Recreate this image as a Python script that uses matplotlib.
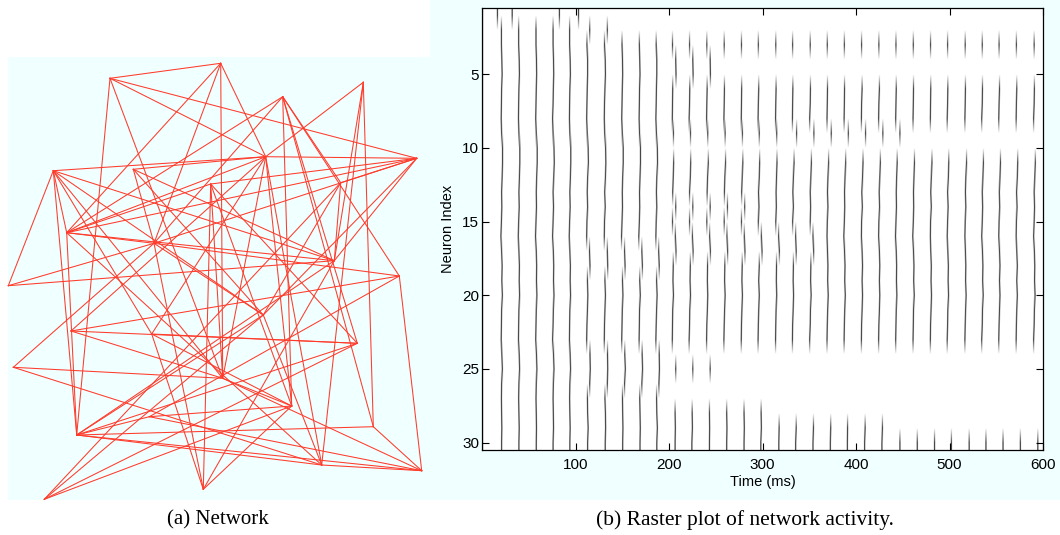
import numpy as np
import matplotlib
matplotlib.use("Agg")
import matplotlib.pyplot as plt
from matplotlib.patches import Rectangle

plt.rcParams['font.family'] = ['Liberation Sans', 'DejaVu Sans']

# ---------------- network panel: node positions (picture pixels) ----------------
node_names = ["A", "B", "C", "D", "E", "F", "G", "H", "I", "J", "K", "L", "M", "N", "O",
              "P", "Q", "R", "S", "T", "U", "V", "W", "X", "Y", "Z", "AA", "AB", "AC"]
node_x = [220.7, 110.0, 282.7, 363.3, 265.7, 416.7, 53.3, 133.3, 210.7, 340.7, 66.7, 154.0, 334.3, 399.3, 8.3,
          71.0, 151.7, 263.3, 357.3, 222.7, 13.3, 291.7, 373.3, 76.7, 149.3, 321.7, 421.7, 203.3, 44.3]
node_y = [63.3, 78.3, 96.7, 82.3, 156.7, 158.3, 170.7, 169.3, 184.0, 182.7, 232.7, 243.3, 260.7, 276.0, 285.7,
          331.0, 334.0, 315.0, 343.3, 378.3, 367.3, 406.0, 426.7, 435.0, 416.7, 465.0, 470.7, 489.3, 499.3]
edges = [
    ("A", "B"), ("A", "T"), ("A", "E"), ("A", "L"), ("A", "K"),
    ("B", "X"), ("B", "E"), ("B", "F"), ("B", "T"),
    ("C", "J"), ("C", "V"), ("C", "S"), ("C", "W"), ("C", "K"), ("C", "L"), ("C", "N"),
    ("D", "E"), ("D", "M"), ("D", "W"), ("D", "Z"),
    ("E", "G"), ("E", "H"), ("E", "F"), ("E", "K"), ("E", "Q"), ("E", "P"), ("E", "T"), ("E", "Z"), ("E", "V"),
    ("F", "K"), ("F", "L"), ("F", "J"), ("F", "R"), ("F", "M"), ("F", "I"),
    ("G", "K"), ("G", "O"), ("G", "X"), ("G", "Q"), ("G", "R"), ("G", "M"), ("G", "T"),
    ("H", "L"), ("H", "M"), ("H", "R"),
    ("I", "T"), ("I", "S"), ("I", "V"), ("I", "K"), ("I", "AB"),
    ("J", "M"), ("J", "R"), ("J", "AC"),
    ("K", "L"), ("K", "M"), ("K", "X"), ("K", "Z"),
    ("L", "AB"), ("L", "R"), ("L", "N"), ("L", "U"),
    ("M", "O"), ("M", "AB"), ("M", "X"),
    ("N", "P"), ("N", "AA"), ("N", "Y"),
    ("O", "L"),
    ("P", "S"), ("P", "T"),
    ("Q", "S"), ("Q", "AB"), ("Q", "V"),
    ("R", "X"), ("R", "Z"), ("R", "AC"),
    ("S", "X"), ("S", "AC"),
    ("T", "V"), ("T", "AA"), ("T", "U"),
    ("U", "Z"),
    ("V", "AB"), ("V", "AC"), ("V", "Y"),
    ("W", "AA"), ("W", "X"),
    ("X", "Z"), ("X", "AA"), ("X", "Y"),
    ("Y", "AA"), ("Z", "AA"),
]

# ---------------- raster panel ----------------
n_neurons = 30
t_max = 600.0
# times of the population bursts (ms)
cycle_times = [20.7, 39.2, 57.7, 75.9, 93.7, 112.3, 131.1, 149.7, 168.2, 186.3,
               203.7, 221.9, 240.5, 259.0, 277.5, 295.6, 314.2, 332.3, 350.9, 369.3,
               387.5, 406.1, 424.6, 442.7, 461.2, 479.8, 497.9, 516.8, 534.9, 553.1,
               571.6, 590.4]
# (first cycle, last cycle, first neuron, last neuron, lag in ms)
firing_blocks = [
    (0, 4, 2, 30, 0.0),
    (5, 6, 2, 2, 3.0),
    (5, 9, 3, 16, 0.0),
    (5, 9, 17, 18, 2.5),
    (5, 9, 19, 23, 0.0),
    (5, 9, 24, 26, 2.5),
    (5, 9, 27, 30, 0.5),
    (10, 31, 3, 3, 0.0),
    (10, 12, 4, 5, 3.0),
    (10, 31, 6, 8, 0.0),
    (10, 16, 9, 9, 0.8),
    (17, 23, 9, 9, 4.0),
    (10, 31, 11, 13, 0.0),
    (10, 14, 14, 14, 3.0),
    (15, 31, 14, 14, 0.0),
    (10, 31, 15, 15, 0.0),
    (10, 18, 16, 17, 3.5),
    (19, 31, 16, 17, 0.0),
    (10, 31, 18, 23, 0.0),
    (10, 12, 25, 25, 2.5),
    (10, 15, 28, 30, 2.5),
    (16, 22, 29, 30, 3.0),
    (23, 31, 30, 30, 4.0),
]
# small per-neuron offsets that give the wiggles (ms)
neuron_jitter = [0.0, 0.0, 0.0, 0.6, 0.8, 0.3, 0.0, -0.3, 0.2, 1.2,
                 1.4, 0.8, 0.2, 0.6, 0.0, -0.4, 0.3, 0.8, 0.5, 1.0,
                 0.4, 0.0, -0.3, 0.6, 1.0, 0.4, 0.0, 0.3, 0.6, 0.2]
neuron1_spikes = [16.5, 32.2, 82.8, 103.3]
onset_time = 0.5

dt = 0.25
spike_width = 1.0
raster = np.zeros((n_neurons, int(t_max / dt)))


def add_spike(neuron, t):
    i0 = int(round((t - spike_width / 2) / dt))
    i1 = i0 + int(spike_width / dt)
    raster[neuron - 1, max(i0, 0):max(i1, 0)] = 1.0


for n in range(1, n_neurons + 1):
    add_spike(n, onset_time)
for t in neuron1_spikes:
    add_spike(1, t)
for c0, c1, n0, n1, lag in firing_blocks:
    for c in range(c0, c1 + 1):
        for n in range(n0, n1 + 1):
            add_spike(n, cycle_times[c] + lag + neuron_jitter[n - 1])

W, H = 1060, 535


def fig_box(x0, y0, x1, y1):
    return [x0 / W, 1 - y1 / H, (x1 - x0) / W, (y1 - y0) / H]


fig = plt.figure(figsize=(W / 100, H / 100), dpi=100)
fig.patches.append(Rectangle((430 / W, 1 - 500 / H), 630 / W, 500 / H, transform=fig.transFigure,
                             facecolor='#f0ffff', edgecolor='none', zorder=-10))

# network
ax_net = fig.add_axes(fig_box(8, 57, 430, 500))
ax_net.set_facecolor('#f0ffff')
pos = {name: (x, y) for name, x, y in zip(node_names, node_x, node_y)}
for a, b in edges:
    ax_net.plot([pos[a][0], pos[b][0]], [pos[a][1], pos[b][1]], color='#ff3b2b', lw=0.75, clip_on=False)
ax_net.set_xlim(8, 430)
ax_net.set_ylim(500, 57)
ax_net.set_xticks([])
ax_net.set_yticks([])
for s in ax_net.spines.values():
    s.set_visible(False)

# raster
ax = fig.add_axes(fig_box(482, 8, 1043, 450))
ax.set_zorder(5)
ax.imshow(raster, cmap='gray_r', vmin=0, vmax=1, aspect='auto', interpolation='bilinear',
          extent=[0, t_max, n_neurons + 0.5, 0.5])
ax.set_xlim(0, t_max)
ax.set_ylim(n_neurons + 0.5, 0.5)
ax.set_xticks([100, 200, 300, 400, 500, 600])
ax.set_yticks([5, 10, 15, 20, 25, 30])
ax.tick_params(direction='in', top=True, right=True, length=5, width=0.8, labelsize=11)
ax.tick_params(axis='x', pad=6)
ax.tick_params(axis='y', pad=2)
ax.set_xlabel('Time (ms)', fontsize=10.5, labelpad=2)
ax.set_ylabel('Neuron Index', fontsize=10.5, labelpad=5)
for s in ax.spines.values():
    s.set_linewidth(0.9)

serif = ['Liberation Serif', 'DejaVu Serif']
fig.text(218 / W, 1 - 520 / H, '(a) Network', ha='center', va='center', fontsize=15, family=serif)
fig.text(745 / W, 1 - 520 / H, '(b) Raster plot of network activity.', ha='center', va='center',
         fontsize=15.5, family=serif)

fig.savefig('out.png', dpi=100)
